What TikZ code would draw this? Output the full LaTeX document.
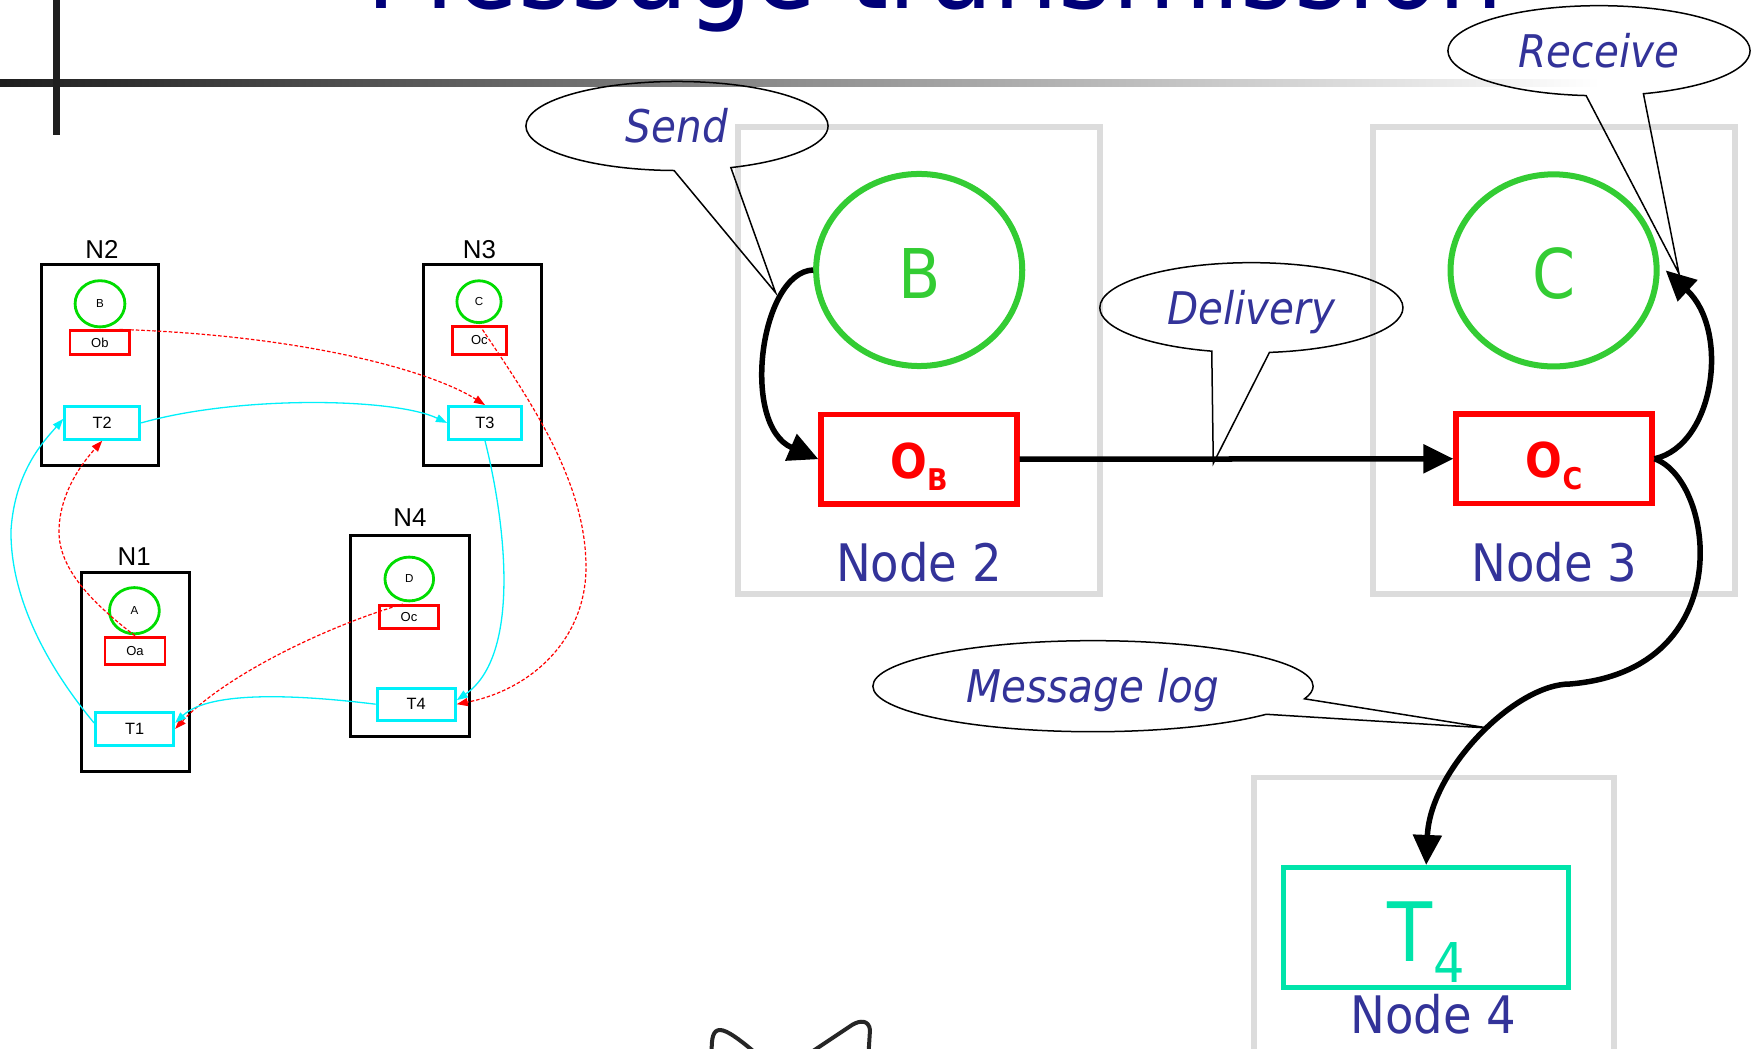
\documentclass[tikz,border=0pt]{standalone}
\usepackage{fontspec}
\setmainfont{Liberation Sans}
\newfontfamily\slidefont[FakeStretch=0.9]{DejaVu Sans}
\usetikzlibrary{shapes.geometric,shapes.callouts,arrows.meta,calc}

\definecolor{titleblue}{RGB}{0,0,120}
\definecolor{labelblue}{RGB}{51,51,153}
\definecolor{placegreen}{RGB}{51,204,51}
\definecolor{objred}{RGB}{255,0,0}
\definecolor{threadmint}{RGB}{0,228,170}
\definecolor{framegray}{RGB}{220,220,220}
\definecolor{minigreen}{RGB}{0,220,0}
\definecolor{minicyan}{RGB}{0,240,250}

\tikzset{
  % small overview diagram
  minibox/.style={rectangle, draw=black, line width=0.3mm, inner sep=0},
  miniplace/.style={ellipse, draw=minigreen, line width=0.28mm, inner sep=0,
    font=\fontsize{3.3pt}{4pt}\selectfont},
  miniobj/.style={rectangle, draw=objred, line width=0.28mm, inner sep=0,
    font=\fontsize{3.7pt}{4pt}\selectfont},
  minithread/.style={rectangle, draw=minicyan, line width=0.3mm, inner sep=0,
    font=\fontsize{4.65pt}{5pt}\selectfont},
  minititle/.style={anchor=base, inner sep=0, font=\fontsize{7.35pt}{8pt}\selectfont},
  minimsg/.style={draw=objred, line width=0.12mm, dash pattern=on 0.35mm off 0.2mm,
    -{Triangle[length=1.1mm,width=0.8mm]}},
  minicall/.style={draw=minicyan, line width=0.13mm,
    -{Triangle[length=1.1mm,width=0.8mm]}},
  % large diagram
  frame/.style={rectangle, draw=framegray, line width=0.55mm, inner sep=0},
  place/.style={ellipse, draw=placegreen, line width=0.6mm, inner sep=0,
    minimum width=20.6mm, minimum height=19.2mm, text=placegreen,
    font=\slidefont\fontsize{19.5pt}{20pt}\selectfont,
    text height=5.66mm, text depth=0mm},
  objbox/.style={rectangle, draw=objred, line width=0.55mm, inner sep=0,
    minimum width=19.55mm, minimum height=8.95mm, text=objred,
    font=\slidefont\bfseries\fontsize{13.66pt}{14pt}\selectfont,
    text height=3.76mm, text depth=0mm},
  threadbox/.style={rectangle, draw=threadmint, line width=0.5mm, inner sep=0,
    minimum width=28.46mm, minimum height=12mm, text=threadmint,
    font=\slidefont\fontsize{23.3pt}{24pt}\selectfont,
    text height=6.8mm, text depth=0mm},
  nodelabel/.style={anchor=base, inner sep=0, text=labelblue,
    font=\slidefont\fontsize{14.7pt}{15pt}\selectfont},
  bigarrow/.style={line width=0.55mm, -{Triangle[length=3mm,width=2.8mm]}},
  bubble/.style={ellipse callout, draw=black, line width=0.15mm, inner sep=0,
    callout pointer arc=22, text=labelblue,
    font=\slidefont\itshape\fontsize{12.8pt}{13pt}\selectfont,
    text height=3.3mm, text depth=0mm},
}

\begin{document}
\begin{tikzpicture}[x=0.01cm, y=-0.01cm]
\useasboundingbox (0,0) rectangle (1759,1049);
\clip (0,0) rectangle (1759,1049);

% slide decoration: title, rule and corner bar
\node[anchor=base west, inner sep=0, text=titleblue,
  font=\slidefont\fontsize{32.4pt}{33pt}\selectfont] (title) at (366,8.3) {Message transmission};
\shade[left color=black!88, right color=white] (0,80) rectangle (1600,87);
\fill[black!88] (53,0) rectangle (60,135);

% ---------------- small overview diagram ----------------
\node[minibox, minimum width=11.75mm, minimum height=20.07mm] (N2) at (99.9,364.7) {};
\node[minibox, minimum width=11.78mm, minimum height=20.07mm] (N3) at (482.4,364.7) {};
\node[minibox, minimum width=11.83mm, minimum height=20.07mm] (N4) at (409.9,636.3) {};
\node[minibox, minimum width=10.79mm, minimum height=19.9mm] (N1) at (135.4,672.2) {};

\node[minititle] (N2lab) at (102,258.3) {N2};
\node[minititle] (N3lab) at (479.5,258.3) {N3};
\node[minititle] (N4lab) at (410,526.7) {N4};
\node[minititle] (N1lab) at (134.2,565.7) {N1};

\node[miniplace, minimum width=4.98mm, minimum height=4.62mm] (sB) at (100,303.8) {B};
\node[miniplace, minimum width=4.42mm, minimum height=4.18mm] (sC) at (479,301.7) {C};
\node[miniplace, minimum width=4.86mm, minimum height=4.38mm] (sD) at (409.3,579) {D};
\node[miniplace, minimum width=4.98mm, minimum height=4.62mm] (sA) at (134.4,610.7) {A};

\node[miniobj, minimum width=5.99mm, minimum height=2.37mm] (sOb) at (99.9,342.7) {Ob};
\node[miniobj, minimum width=5.42mm, minimum height=2.8mm] (sOc3) at (479.4,340.5) {Oc};
\node[miniobj, minimum width=5.83mm, minimum height=2.3mm] (sOc4) at (409,617) {Oc};
\node[miniobj, minimum width=5.99mm, minimum height=2.7mm] (sOa) at (135,650.7) {Oa};

\node[minithread, minimum width=7.49mm, minimum height=3.27mm] (sT2) at (102.2,422.9) {T2};
\node[minithread, minimum width=7.3mm, minimum height=3.27mm] (sT3) at (485,422.9) {T3};
\node[minithread, minimum width=7.81mm, minimum height=3.2mm] (sT4) at (416.2,704.2) {T4};
\node[minithread, minimum width=7.81mm, minimum height=3.27mm] (sT1) at (134.6,728.9) {T1};

\coordinate (w1) at (11,530);
\coordinate (w2) at (59,530);
\coordinate (w3) at (586,565);

\draw[minimsg] ([xshift=-1.2mm]sOb.north east) .. controls (300,335) and (430,370) .. (sT3.north);
\draw[minicall] (sT2.east) .. controls (240,395) and (395,398) .. (sT3.west);
\draw[minicall] ([yshift=0.6mm]sT1.west) .. controls (50,670) and (10,600) .. (w1)
  .. controls (15,470) and (45,440) .. ([yshift=0.4mm]sT2.west);
\draw[minimsg] (sOa.north) .. controls (95,605) and (58,570) .. (w2)
  .. controls (60,490) and (85,460) .. (sT2.south);
\draw[minimsg] ([xshift=-0.6mm]sOc4.north) .. controls (330,625) and (225,675) .. (sT1.east);
\draw[minicall] (sT4.west) .. controls (300,695) and (210,690) .. ([yshift=0.6mm]sT1.east);
\draw[minicall] (sT3.south) .. controls (505,520) and (522,655) .. ([yshift=0.4mm]sT4.east);
\draw[minimsg] (sOc3.north) .. controls (530,400) and (585,480) .. (w3)
  .. controls (587,640) and (530,690) .. (sT4.east);

% ---------------- large diagram ----------------
\node[frame, minimum width=36.2mm, minimum height=46.7mm] (node2) at (919,360.5) {};
\node[frame, minimum width=36.2mm, minimum height=46.7mm] (node3) at (1554,360.5) {};
\node[frame, minimum width=36mm, minimum height=28.27mm] (node4) at (1434,918.7) {};

\node[nodelabel] (node2lab) at (919,581.7) {Node 2};
\node[nodelabel] (node3lab) at (1554.5,581.7) {Node 3};
\node[nodelabel] (node4lab) at (1433.5,1033.3) {Node 4};

\node[place] (B) at (919.2,270) {B};
\node[place] (C) at (1553.6,270.4) {C};

\node[objbox] (Ob) at (919,459.2) {O\raisebox{-1.2mm}{\fontsize{8.5pt}{9pt}\selectfont B}};
\node[objbox] (Oc) at (1554,458.8) {O\raisebox{-1.2mm}{\fontsize{8.5pt}{9pt}\selectfont C}};

\node[threadbox] (T4) at (1426.2,927.5) {T\raisebox{-2.1mm}{\fontsize{15.6pt}{16pt}\selectfont 4}};

\coordinate (bend) at (1570,684);

\draw[bigarrow] (B.west) .. controls +(-53,2) and +(-78.5,-34) .. (Ob.west);
\draw[bigarrow] (Ob.east) -- (Oc.west);
\draw[bigarrow] (Oc.east) .. controls +(60.5,-13.8) and +(64.4,59.6) .. ([xshift=0.6mm]C.east);
\draw[bigarrow] (Oc.east) .. controls +(60.5,21.2) and +(170,-14) .. (bend)
  .. controls +(-55,0) and +(3.8,-95) .. (T4.north);

% speech bubbles
\coordinate (sendtip) at (775.6,292.7);
\coordinate (recvtip) at (1679,273.6);
\coordinate (delivtip) at (1213.3,463.3);
\coordinate (logtip) at (1488,728);

\node[bubble, minimum width=3.02cm, minimum height=0.89cm,
  callout absolute pointer={(sendtip)}] (send) at (677,126) {Send};
\node[bubble, minimum width=3.02cm, minimum height=0.9cm,
  callout absolute pointer={(recvtip)}] (receive) at (1599,50.7) {Receive};
\node[bubble, minimum width=3.03cm, minimum height=0.9cm,
  callout absolute pointer={(delivtip)}] (delivery) at (1251.4,307.7) {Delivery};
\node[bubble, minimum width=4.4cm, minimum height=0.91cm,
  callout absolute pointer={(logtip)}] (msglog) at (1093,686.2) {Message log};

% clip-art edge peeking in at the bottom
\draw[black!85, line width=0.4mm, line cap=round, line join=round]
  (711.7,1052) .. controls (711.5,1038) and (713,1030) .. (720,1030)
  .. controls (727,1030) and (740,1040) .. (752,1050);
\draw[black!85, line width=0.4mm, line cap=round, line join=round]
  (813,1051) -- (852,1025) .. controls (860,1020) and (869,1020) .. (870,1030) -- (868.7,1051);
\end{tikzpicture}
\end{document}
